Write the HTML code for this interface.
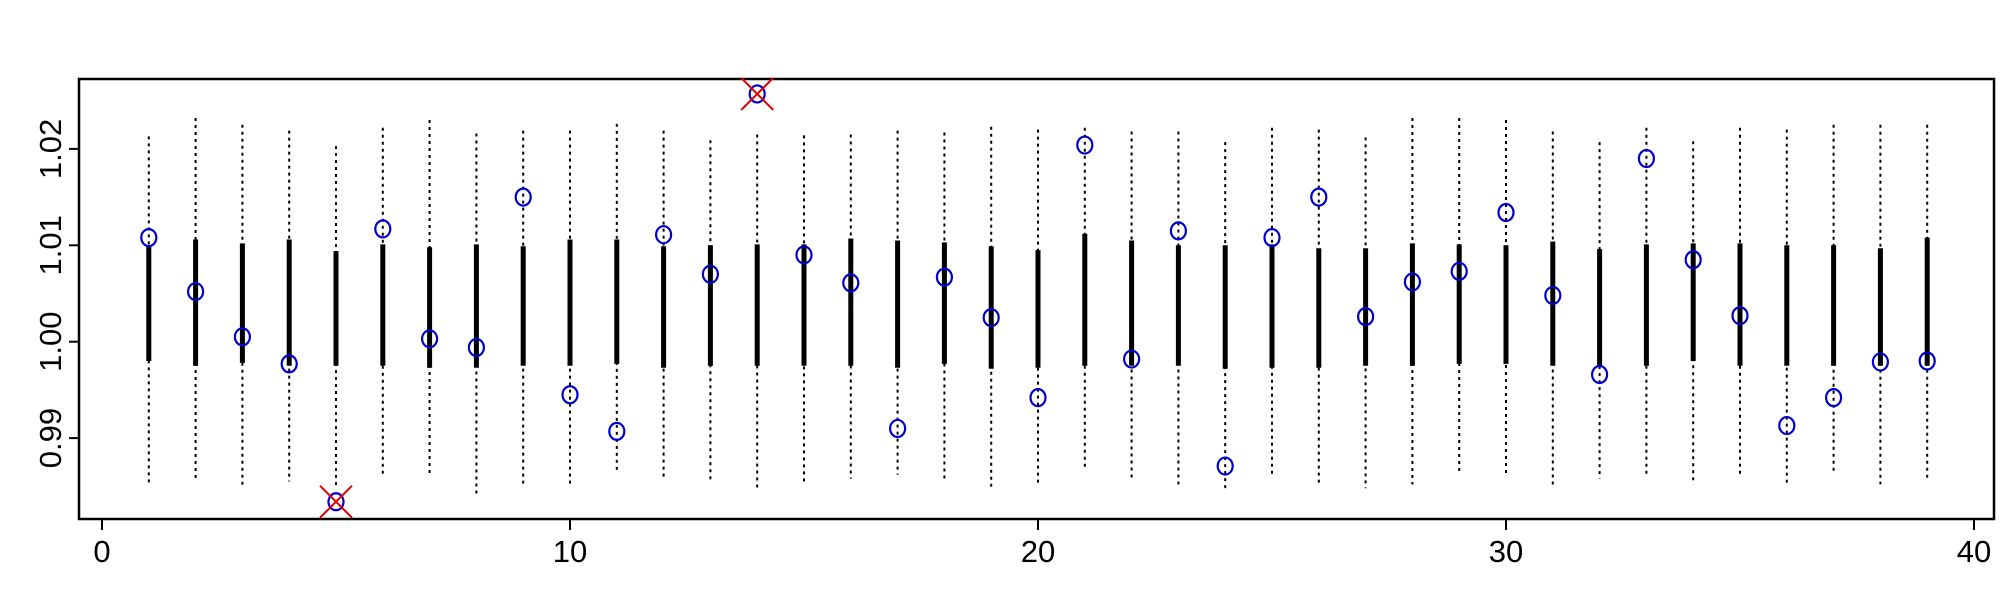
<!DOCTYPE html>
<html><head><meta charset="utf-8"><style>
html,body{margin:0;padding:0;background:#fff;}
svg{display:block;font-family:"Liberation Sans",Arial,sans-serif;}
</style></head><body>
<svg id="chart" width="2000" height="600" viewBox="0 0 2000 600" xmlns="http://www.w3.org/2000/svg"></svg>
<script>
const points = [1.0108,1.0052,1.0005,0.9977,0.9834,1.0117,1.0003,0.9994,1.0150,0.9945,0.9907,1.0111,1.0070,1.0257,1.0090,1.0061,0.9910,1.0067,1.0025,0.9942,1.0204,0.9982,1.0115,0.9871,1.0108,1.0150,1.0026,1.0062,1.0073,1.0134,1.0048,0.9966,1.0190,1.0085,1.0027,0.9913,0.9942,0.9979,0.9980];
const outlierFlags = [0,0,0,0,1,0,0,0,0,0,0,0,0,1,0,0,0,0,0,0,0,0,0,0,0,0,0,0,0,0,0,0,0,0,0,0,0,0,0];
const thickLow = [0.9980,0.9975,0.9978,0.9975,0.9975,0.9975,0.9973,0.9973,0.9975,0.9975,0.9977,0.9973,0.9975,0.9975,0.9975,0.9975,0.9973,0.9977,0.9972,0.9973,0.9975,0.9975,0.9975,0.9972,0.9973,0.9973,0.9975,0.9975,0.9977,0.9977,0.9975,0.9975,0.9975,0.9980,0.9975,0.9975,0.9975,0.9975,0.9975];
const thickHigh = [1.0100,1.0106,1.0102,1.0106,1.0094,1.0101,1.0098,1.0101,1.0099,1.0106,1.0106,1.0099,1.0100,1.0101,1.0101,1.0107,1.0105,1.0103,1.0099,1.0095,1.0112,1.0105,1.0100,1.0100,1.0101,1.0097,1.0097,1.0102,1.0101,1.0100,1.0104,1.0096,1.0101,1.0102,1.0102,1.0100,1.0100,1.0097,1.0108];
const whiskLow = [0.9853,0.9855,0.9848,0.9855,0.9850,0.9862,0.9862,0.9840,0.9852,0.9852,0.9865,0.9858,0.9855,0.9845,0.9855,0.9858,0.9862,0.9856,0.9847,0.9852,0.9868,0.9858,0.9852,0.9845,0.9860,0.9852,0.9848,0.9852,0.9862,0.9862,0.9850,0.9858,0.9862,0.9852,0.9862,0.9852,0.9865,0.9852,0.9855];
const whiskHigh = [1.0213,1.0232,1.0225,1.0219,1.0203,1.0222,1.0230,1.0216,1.0219,1.0219,1.0226,1.0219,1.0209,1.0215,1.0214,1.0215,1.0219,1.0217,1.0223,1.0220,1.0222,1.0218,1.0218,1.0207,1.0222,1.0220,1.0212,1.0232,1.0232,1.0230,1.0218,1.0207,1.0222,1.0208,1.0222,1.0220,1.0225,1.0225,1.0225];
const xTicks = [0,10,20,30,40];
const yTicks = [0.99,1.00,1.01,1.02];

const NS="http://www.w3.org/2000/svg";
const svg=document.getElementById('chart');
function X(v){return 102 + v*46.8;}
function Y(v){return 341.7 - (v-1)/0.01*96.4;}
function mk(tag,attrs,parent){const e=document.createElementNS(NS,tag);for(const k in attrs)e.setAttribute(k,attrs[k]);(parent||svg).appendChild(e);return e;}

const frame=mk('rect',{x:79,y:79,width:1915,height:440,fill:'none',stroke:'#000','stroke-width':2.5});



const xAxis=mk('g',{});


xTicks.forEach(t=>{
  mk('line',{x1:X(t),x2:X(t),y1:519,y2:530,stroke:'#000','stroke-width':2},xAxis);
  const tx=mk('text',{x:X(t),y:562,'text-anchor':'middle','font-size':31},xAxis);
  tx.textContent=t;
  
  
});
const yAxis=mk('g',{});


yTicks.forEach(t=>{
  mk('line',{x1:69,x2:79,y1:Y(t),y2:Y(t),stroke:'#000','stroke-width':2},yAxis);
  const tx=mk('text',{x:0,y:0,'text-anchor':'middle','font-size':31,transform:`translate(61,${Y(t)}) rotate(-90)`},yAxis);
  tx.textContent=t.toFixed(2);
  
  
});

points.forEach((p,i)=>{
  const cx=X(i+1);
  const g=mk('g',{});
  
  
  mk('line',{x1:cx,x2:cx,y1:Y(whiskHigh[i]),y2:Y(whiskLow[i]),stroke:'#000','stroke-width':2,'stroke-dasharray':'3,4'},g);
  mk('line',{x1:cx,x2:cx,y1:Y(thickHigh[i]),y2:Y(thickLow[i]),stroke:'#000','stroke-width':5},g);
  const c=mk('ellipse',{cx:cx,cy:Y(p),rx:7.5,ry:8.5,fill:'none',stroke:'#0000cc','stroke-width':2.2},g);
  
  
  if(outlierFlags[i]){
    const y=Y(p);
    const o=mk('path',{d:`M${cx-16},${y-16}L${cx+16},${y+16}M${cx-16},${y+16}L${cx+16},${y-16}`,stroke:'#dd0000','stroke-width':2,fill:'none'},g);
    
    
  }
});
</script>
</body></html>
